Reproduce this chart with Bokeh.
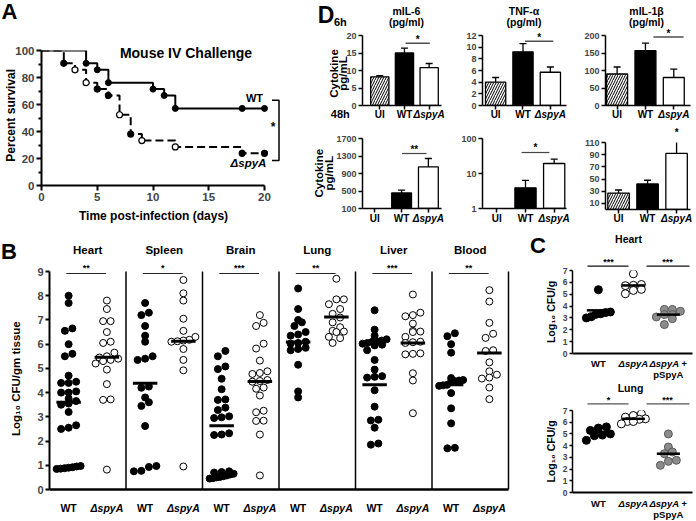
import math
from bokeh.plotting import figure
from bokeh.models import (ColumnDataSource, Whisker, TeeHead, FixedTicker,
                          Range1d, BasicTickFormatter)
from bokeh.core.properties import value
from bokeh.layouts import row, column
from bokeh.embed import file_html
from bokeh.resources import INLINE

# ======================= DATA =======================
# Panel A : Kaplan-Meier survival (percent)
wt_days = [0, 4, 5, 6, 10, 11, 12, 20]
wt_surv = [100, 90.5, 85.7, 76.2, 71.4, 66.7, 57.1, 57.1]
wt_mark_days = [4, 5, 6, 10, 11, 12, 18, 20]
wt_mark_surv = [90.5, 85.7, 76.2, 71.4, 66.7, 57.1, 57.1, 57.1]
mut_days = [0, 2, 3, 4, 5, 6, 7, 8, 9, 12, 18, 20]
mut_surv = [100, 90.5, 85.7, 76.2, 71.4, 66.7, 52.4, 38.1, 33.3, 28.6, 23.8, 23.8]
mut_mark_days = [2, 3, 4, 5, 6, 7, 8, 9, 12, 18, 20]
mut_mark_surv = [90.5, 85.7, 76.2, 71.4, 66.7, 52.4, 38.1, 33.3, 28.6, 23.8, 23.8]
mut_mark_open = [False, True, True, False, False, True, False, True, True, False, False]
a_xticks = [0, 5, 10, 15, 20]
a_yticks = [0, 20, 40, 60, 80, 100]
a_yminor = [10, 30, 50, 70, 90]

# Panel D : cytokines (UI, WT, dspyA)
d_groups = ["UI", "WT", "\u0394spyA"]
il6_6h = [8.2, 15.0, 10.8]
il6_6h_err = [8.5, 16.4, 12.0]
tnf_6h = [4.0, 9.2, 5.7]
tnf_6h_err = [4.8, 10.6, 6.6]
il1b_6h = [90, 157, 80]
il1b_6h_err = [110, 178, 104]
il6_48h = [None, 457, 1051]
il6_48h_err = [None, 518, 1243]
tnf_48h = [None, 3.9, 19.3]
tnf_48h_err = [None, 6.4, 25.6]
il1b_48h = [27, 42, 92]
il1b_48h_err = [32, 48, 113]
il6_6h_ticks = [0, 5, 10, 15, 20]
tnf_6h_ticks = [0, 2, 4, 6, 8, 10, 12]
il1b_6h_ticks = [0, 50, 100, 150, 200]
il6_48h_ticks = [100, 500, 900, 1300, 1700]
tnf_48h_ticks = [1, 10, 100]
il1b_48h_ticks = [10, 30, 50, 70, 90, 110]

# Panel B : log10 CFU/gm tissue
organs = ["Heart", "Spleen", "Brain", "Lung", "Liver", "Blood"]
heart_wt = [8.0, 7.7, 6.65, 6.55, 6.0, 5.6, 5.5, 4.7, 4.45, 4.4, 4.4, 4.05, 4.0, 4.0,
            3.75, 3.65, 3.55, 3.5, 3.2, 2.65, 2.55, 2.5, 0.97, 0.95, 0.92, 0.9, 0.88, 0.86, 0.85]
heart_mut = [7.8, 7.45, 6.95, 6.95, 6.5, 6.1, 6.05, 5.65, 5.5, 5.45, 5.4, 5.35, 5.3, 5.2,
             4.95, 4.35, 3.72, 3.7, 0.82]
spleen_wt = [7.7, 7.3, 7.2, 6.75, 6.35, 6.1, 5.5, 5.4, 5.35, 4.25, 4.2, 3.8, 3.6, 3.45,
             2.62, 0.97, 0.93, 0.77, 0.75]
spleen_mut = [8.65, 8.1, 7.8, 7.05, 6.55, 6.3, 6.18, 6.15, 6.12, 6.1, 5.8, 5.35, 4.92, 0.95]
brain_wt = [5.72, 5.5, 5.08, 4.97, 4.57, 4.14, 3.72, 3.7, 3.38, 3.28, 3.02, 2.95, 2.98,
            2.32, 2.25, 2.27, 0.75, 0.72, 0.7, 0.65, 0.62, 0.58, 0.55, 0.52, 0.5, 0.47, 0.45]
brain_mut = [7.2, 6.88, 6.75, 6.02, 5.82, 5.32, 4.88, 4.81, 4.77, 4.52, 4.48, 4.45, 4.21,
             4.16, 3.88, 3.25, 3.19, 2.84, 2.83, 2.27, 0.58]
lung_wt = [8.3, 7.45, 7.0, 6.9, 6.75, 6.5, 6.4, 6.35, 6.1, 6.05, 6.02, 5.85, 5.8, 5.75,
           5.15, 4.05, 3.8]
lung_mut = [8.7, 7.85, 7.85, 7.65, 7.45, 7.25, 7.1, 6.9, 6.7, 6.55, 6.52, 6.5, 6.3, 6.25, 6.05]
liver_wt = [7.4, 6.6, 6.35, 6.2, 6.15, 6.12, 6.1, 6.05, 6.02, 5.98, 5.95, 5.75, 5.35, 4.95,
            4.68, 4.65, 4.62, 4.1, 3.42, 2.88, 2.85, 2.55, 1.9, 1.85]
liver_mut = [8.05, 7.3, 7.2, 7.15, 6.85, 6.55, 6.52, 6.5, 6.3, 6.1, 6.08, 6.05, 5.62, 5.6,
             5.58, 4.8, 4.5, 3.15]
blood_wt = [6.45, 6.33, 6.0, 5.65, 4.6, 4.52, 4.5, 4.47, 4.45, 4.32, 4.3, 4.28, 3.98, 3.35,
            2.73, 1.72, 1.7]
blood_mut = [8.23, 7.76, 6.88, 6.43, 6.26, 5.75, 5.72, 5.25, 4.88, 4.74, 4.62, 4.58, 4.21, 3.73]
b_wt = [heart_wt, spleen_wt, brain_wt, lung_wt, liver_wt, blood_wt]
b_mut = [heart_mut, spleen_mut, brain_mut, lung_mut, liver_mut, blood_mut]
b_center_wt = [3.6, 4.39, 2.63, 6.09, 4.32, 4.32]
b_center_mut = [5.46, 6.12, 4.46, 7.12, 6.05, 5.64]
b_stars = ["**", "*", "***", "**", "***", "**"]
b_yticks = [0, 1, 2, 3, 4, 5, 6, 7, 8, 9]

# Panel C : log10 CFU/g
c_groups = ["WT", "\u0394spyA", "\u0394spyA +"]
c_heart = [[5.38, 3.5, 3.45, 3.35, 3.3, 3.1, 3.0],
           [6.72, 5.82, 5.75, 5.72, 5.41, 5.32, 5.04],
           [3.72, 3.72, 3.56, 3.28, 3.28, 3.08, 2.94, 2.44]]
c_heart_mean = [3.64, 5.74, 3.28]
c_lung = [[5.6, 5.5, 5.3, 5.0, 4.9, 4.85, 4.45],
          [6.72, 6.57, 6.43, 6.29, 6.25, 6.06, 6.06, 5.86],
          [5.0, 3.88, 3.46, 3.31, 2.75, 2.66, 2.32]]
c_lung_mean = [5.16, 6.29, 3.31]
c_heart_stars = ["***", "***"]
c_lung_stars = ["*", "***"]
c_yticks = [0, 1, 2, 3, 4, 5, 6, 7]

# ======================= LAYOUT HELPERS =======================
FONT = "Liberation Sans"
SXF = 1.0
SYF = 1.0
FS = 1.0


def sx(x):
    return int(round(x * SXF))


def sy(y):
    return int(round(y * SYF))


def fpx(s):
    return f"{s * FS:.1f}px"


class Panel:
    def __init__(self, canvas, frame, xr, yr, ylog=False):
        cx0, cy0, cx1, cy1 = canvas
        fx0, fy0, fx1, fy1 = frame
        self.frame = frame
        self.xr = xr
        self.yr = yr
        self.ylog = ylog
        p = figure(width=sx(cx1) - sx(cx0), height=sy(cy1) - sy(cy0),
                   x_range=Range1d(*xr), y_range=Range1d(*yr),
                   y_axis_type="log" if ylog else "linear",
                   output_backend="svg", toolbar_location=None,
                   min_border_left=sx(fx0) - sx(cx0), min_border_right=sx(cx1) - sx(fx1),
                   min_border_top=sy(fy0) - sy(cy0), min_border_bottom=sy(cy1) - sy(fy1))
        p.outline_line_color = None
        p.grid.visible = False
        p.background_fill_color = "white"
        p.border_fill_color = "white"
        self.p = p

    def ppu_x(self):
        fx0, _, fx1, _ = self.frame
        return (fx1 - fx0) / (self.xr[1] - self.xr[0])

    def ppu_y(self):
        _, fy0, _, fy1 = self.frame
        return (fy1 - fy0) / (self.yr[1] - self.yr[0])

    def dx(self, px):
        fx0, _, fx1, _ = self.frame
        return self.xr[0] + (px - fx0) / (fx1 - fx0) * (self.xr[1] - self.xr[0])

    def dy(self, py):
        _, fy0, _, fy1 = self.frame
        t = (fy1 - py) / (fy1 - fy0)
        if self.ylog:
            a, b = math.log10(self.yr[0]), math.log10(self.yr[1])
            return 10 ** (a + t * (b - a))
        return self.yr[0] + t * (self.yr[1] - self.yr[0])

    def text(self, x, y, s, size, style="bold", angle=0.0, align="center", color="black"):
        self.p.text(x=[x], y=[y], text=[s], text_font=value(FONT),
                    text_font_size=value(fpx(size)), text_font_style=value(style),
                    angle=angle, text_align=value(align), text_baseline=value("middle"),
                    text_color=color, level="overlay")


def axis_style(ax, size, out=4, lw=1.5, standoff=2):
    ax.axis_line_width = lw
    ax.axis_line_color = "black"
    ax.major_tick_line_width = lw
    ax.major_tick_line_color = "black"
    ax.minor_tick_line_width = lw
    ax.major_tick_out = int(out)
    ax.major_tick_in = 0
    ax.minor_tick_in = 0
    ax.minor_tick_out = 0
    ax.major_label_text_font = FONT
    ax.major_label_text_font_style = "bold"
    ax.major_label_text_font_size = fpx(size)
    ax.major_label_standoff = standoff


def swarm(vals, ppx, ppy, dmin, spacing, maxw):
    """Centered rows of points whose values lie within dmin pixels of each other."""
    order = sorted(range(len(vals)), key=lambda i: vals[i])
    bins = []
    for i in order:
        if bins and (vals[i] - vals[bins[-1][0]]) * ppy < dmin:
            bins[-1].append(i)
        else:
            bins.append([i])
    out = [0.0] * len(vals)
    for b in bins:
        k = len(b)
        sp = spacing if k < 2 else min(spacing, maxw / (k - 1))
        for j, i in enumerate(b):
            out[i] = (j - (k - 1) / 2) * sp / ppx
    return out


def glabel(P, x, py, name, size):
    if name.startswith("\u0394"):
        P.text(x, P.dy(py), name, size, style="bold italic")
    else:
        P.text(x, P.dy(py), name, size)


# ======================= PANEL A =======================
A = Panel((0, 0, 290, 228), (41, 50.4, 264, 185), (0, 20), (0, 100))
pa = A.p
pa.xaxis.ticker = FixedTicker(ticks=a_xticks)
pa.yaxis.ticker = FixedTicker(ticks=a_yticks, minor_ticks=a_yminor)
for ax in pa.axis:
    axis_style(ax, 11.5, out=5, lw=2)
pa.yaxis.minor_tick_out = 3
pa.step(wt_days, wt_surv, mode="after", line_width=2, line_color="black")
pa.step(mut_days, mut_surv, mode="after", line_width=2, line_color="black", line_dash="8 4")
pa.scatter(wt_mark_days, wt_mark_surv, size=6 * FS, fill_color="black", line_color="black",
           level="overlay")
pa.scatter(mut_mark_days, mut_mark_surv, size=6 * FS,
           fill_color=["white" if o else "black" for o in mut_mark_open],
           line_color="black", line_width=1.2, level="overlay")
bx0, bx1 = A.dx(271.5), A.dx(278.5)
by0, by1 = A.dy(100), A.dy(160)
pa.line([bx0, bx1, bx1, bx0], [by0, by0, by1, by1],
        line_width=1.5, line_color="black", level="overlay")
A.text(A.dx(272.5), A.dy(127), "*", 12)
A.text(A.dx(254), A.dy(97.7), "WT", 11)
A.text(A.dx(248), A.dy(163), "\u0394spyA", 11.5, style="bold italic")
A.text(A.dx(185.5), A.dy(52.5), "Mouse IV Challenge", 14)
A.text(A.dx(10.5), A.dy(115), "Percent survival", 12, angle=math.pi / 2)
A.text(A.dx(153), A.dy(215), "Time post-infection (days)", 12)
A.text(A.dx(9), A.dy(11.5), "A", 22)


# ======================= PANEL D =======================
def bar_panel(canvas, frame, xr, yr, vals, errs, yticks, ylog=False, base=0, lab_y=114):
    P = Panel(canvas, frame, xr, yr, ylog)
    p = P.p
    xs = [1, 2, 3]
    fills = ["white", "black", "white"]
    for x, v, f in zip(xs, vals, fills):
        if v is None:
            continue
        kw = dict(hatch_pattern="/", hatch_color="black", hatch_scale=5, hatch_weight=1) if x == 1 else {}
        p.vbar(x=[x], top=[v], bottom=base, width=0.74, fill_color=f, line_color="black",
               line_width=1.3, **kw)
    src = ColumnDataSource(dict(base=[x for x, v in zip(xs, vals) if v is not None],
                                lower=[v for v in vals if v is not None],
                                upper=[e for e in errs if e is not None]))
    p.add_layout(Whisker(source=src, base="base", lower="lower", upper="upper",
                         dimension="height", line_width=1.3, line_color="black",
                         upper_head=TeeHead(size=7, line_width=1.3, line_color="black"),
                         lower_head=None, level="overlay"))
    p.xaxis.ticker = FixedTicker(ticks=xs)
    p.yaxis.ticker = FixedTicker(ticks=yticks)
    if ylog:
        p.yaxis.formatter = BasicTickFormatter()
    for ax in p.axis:
        axis_style(ax, 9, out=4, lw=1.5)
    p.xaxis.major_label_text_color = None
    for x, name in zip(xs, d_groups):
        glabel(P, x, lab_y, name, 10)
    return P


def sig(P, x0, x1, py, stars, spy, size=10, color="#222222"):
    y = P.dy(py)
    P.p.line([x0, x1], [y, y], line_width=1.2, line_color=color, level="overlay")
    P.text((x0 + x1) / 2, P.dy(spy), stars, size)


D11 = bar_panel((290, 0, 455, 128), (346.5, 35, 441, 105), (0.3, 3.5), (0, 20),
                il6_6h, il6_6h_err, il6_6h_ticks)
D21 = bar_panel((455, 0, 578, 126), (477, 35, 566, 105), (0.52, 3.59), (0, 12),
                tnf_6h, tnf_6h_err, tnf_6h_ticks)
D31 = bar_panel((578, 0, 696, 124), (603, 35, 690, 105), (0.59, 3.59), (0, 200),
                il1b_6h, il1b_6h_err, il1b_6h_ticks)
D12 = bar_panel((290, 128, 455, 228), (362, 138.3, 452, 208.3), (0.54, 3.49), (100, 1700),
                il6_48h, il6_48h_err, il6_48h_ticks, base=100, lab_y=218)
D22 = bar_panel((455, 126, 578, 228), (482, 138.3, 570, 208.3), (0.5, 3.43), (1, 100),
                tnf_48h, tnf_48h_err, tnf_48h_ticks, ylog=True, base=1, lab_y=218)
D32 = bar_panel((578, 124, 696, 228), (605, 141.5, 690, 209), (0.55, 3.48), (0, 110),
                il1b_48h, il1b_48h_err, il1b_48h_ticks, lab_y=218)

for P, name, cx in [(D11, "mIL-6", 399), (D21, "TNF-\u03b1", 521), (D31, "mIL-1\u03b2", 645)]:
    P.text(P.dx(cx), P.dy(10), name, 10.5)
    P.text(P.dx(cx), P.dy(21.5), "(pg/ml)", 10.5)

D11.text(D11.dx(312), D11.dy(73), "Cytokine", 11.5, angle=math.pi / 2)
D11.text(D11.dx(323.5), D11.dy(73), "pg/mL", 11.5, angle=math.pi / 2)
D12.text(D12.dx(312), D12.dy(173), "Cytokine", 11.5, angle=math.pi / 2)
D12.text(D12.dx(323.5), D12.dy(173), "pg/mL", 11.5, angle=math.pi / 2)

D11.text(D11.dx(303), D11.dy(14), "D", 23)
D11.text(D11.dx(320), D11.dy(21.5), "6h", 11)
D11.text(D11.dx(320), D11.dy(113), "48h", 11)

sig(D11, D11.dx(398), D11.dx(427), 42.7, "*", 38.5)
sig(D21, D21.dx(522), D21.dx(552), 40.7, "*", 36.5)
sig(D31, D31.dx(652), D31.dx(683), 36.5, "*", 32.5)
sig(D12, D12.dx(407), D12.dx(435), 153.3, "**", 149.5, color="#444444")
sig(D22, D22.dx(523), D22.dx(552), 152.3, "*", 147.5, color="#444444")
D32.text(3, D32.dy(131.7), "*", 10)

# ======================= PANEL B =======================
B = Panel((0, 228, 528, 521), (49, 270.7, 508, 489), (0, 6), (0, 9))
pb = B.p
pb.yaxis.ticker = FixedTicker(ticks=b_yticks)
pb.xaxis.ticker = FixedTicker(ticks=[])
for ax in pb.axis:
    axis_style(ax, 11, out=4, lw=2)
pb.xaxis.axis_line_width = 2.5
pb.segment(x0=[1, 2, 3, 4, 5, 6], y0=0, x1=[1, 2, 3, 4, 5, 6], y1=9, line_width=1.5,
           line_color="black", level="overlay")
bppx, bppy = B.ppu_x(), B.ppu_y()
for i, organ in enumerate(organs):
    xw, xm = i + 0.25, i + 0.75
    ow = swarm(b_wt[i], bppx, bppy, 6.0, 7.5, 24)
    om = swarm(b_mut[i], bppx, bppy, 6.0, 7.5, 24)
    pb.scatter([xw + o for o in ow], b_wt[i], size=7 * FS, fill_color="black", line_color="black")
    pb.scatter([xm + o for o in om], b_mut[i], size=7 * FS, fill_color="white", line_color="black",
               line_width=1)
    pb.segment(x0=[xw - 0.16, xm - 0.16], y0=[b_center_wt[i], b_center_mut[i]],
               x1=[xw + 0.16, xm + 0.16], y1=[b_center_wt[i], b_center_mut[i]],
               line_width=3, line_color="black")
    pb.line([i + 0.22, i + 0.74], [B.dy(272.7)] * 2, line_width=1, line_color="#222222", level="overlay")
    B.text(i + 0.48, B.dy(267.3), b_stars[i], 9)
    B.text(i + 0.5, B.dy(249), organ, 11.5)
    glabel(B, xw, 508, "WT", 10.5)
    glabel(B, xm, 508, "\u0394spyA", 10.5)
B.text(B.dx(8.5), B.dy(250.5), "B", 22)
B.text(B.dx(15.5), B.dy(378), "Log\u2081\u2080 CFU/gm tissue", 11.5, angle=math.pi / 2)


# ======================= PANEL C =======================
def c_panel(canvas, frame, groups_vals, means, title, title_xy, sig_py, star_py, stars, lab_py, sig_color):
    P = Panel(canvas, frame, (0.26, 3.69), (0, 7))
    p = P.p
    p.yaxis.ticker = FixedTicker(ticks=c_yticks)
    p.xaxis.ticker = FixedTicker(ticks=[])
    for ax in p.axis:
        axis_style(ax, 8.5, out=3, lw=1.5)
    p.xaxis.axis_line_width = 2.2
    ppx, ppy = P.ppu_x(), P.ppu_y()
    styles = [("black", "black"), ("white", "black"), ("#8c8c8c", "#5a5a5a")]
    for k, vals in enumerate(groups_vals):
        offs = swarm(vals, ppx, ppy, 6.5, 8.0, 24)
        fc, lc = styles[k]
        p.scatter([k + 1 + o for o in offs], vals, size=8 * FS, fill_color=fc, line_color=lc,
                  line_width=1)
        p.segment(x0=[k + 1 - 0.33], y0=[means[k]], x1=[k + 1 + 0.33], y1=[means[k]],
                  line_width=2.5, line_color="black", level="overlay")
    y = P.dy(sig_py)
    p.line([P.dx(587), P.dx(628)], [y, y], line_width=1.2, line_color=sig_color, level="overlay")
    p.line([P.dx(646), P.dx(689)], [y, y], line_width=1.2, line_color=sig_color, level="overlay")
    P.text(P.dx(608), P.dy(star_py), stars[0], 9)
    P.text(P.dx(667), P.dy(star_py), stars[1], 9)
    P.text(P.dx(title_xy[0]), P.dy(title_xy[1]), title, 10.5)
    for k, name in enumerate(c_groups):
        glabel(P, k + 1, lab_py, name, 9.5)
    P.text(3, P.dy(lab_py + 11.5), "pSpyA", 9.5)
    P.text(P.dx(550), P.dy((frame[1] + frame[3]) / 2), "Log\u2081\u2080 CFU/g", 10.5, angle=math.pi / 2)
    return P


C1 = c_panel((528, 228, 696, 381), (572, 270, 692, 353.3), c_heart, c_heart_mean, "Heart",
             (628, 238), 265.7, 261.3, c_heart_stars, 363, "#111111")
C2 = c_panel((528, 381, 696, 521), (572, 410, 692, 492.3), c_lung, c_lung_mean, "Lung",
             (630, 387.5), 403.3, 399.5, c_lung_stars, 503, "#555555")
C1.text(C1.dx(537.5), C1.dy(244.5), "C", 22)

# ======================= ASSEMBLE =======================
top = row(A.p, column(D11.p, D12.p), column(D21.p, D22.p), column(D31.p, D32.p))
bottom = row(B.p, column(C1.p, C2.p))
root = column(top, bottom)
# place the 696x521 figure at the window origin
root.styles = {"position": "absolute", "left": "0px", "top": "0px"}

open("out.html", "w").write(file_html(root, INLINE))
